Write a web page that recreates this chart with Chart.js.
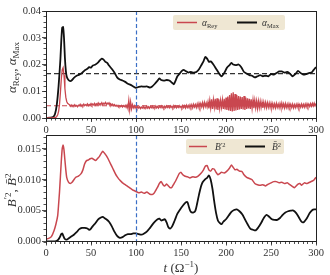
<!DOCTYPE html>
<html lang="en">
<head>
<meta charset="UTF-8">
<title>alpha and B^2 vs t</title>
<script src="https://cdn.jsdelivr.net/npm/chart.js"></script>
<style>
  body { margin: 0; background: #fff; }
  #wrap { position: relative; width: 330px; height: 275px; }
  #wrap canvas { position: absolute; left: 0; }
</style>
</head>
<body>
<div id="wrap">
  <canvas id="topChart" width="330" height="140" style="top:0"></canvas>
  <canvas id="botChart" width="330" height="147" style="top:128px"></canvas>
</div>
<script>
// ---- data ----
const xTicks = [0, 50, 100, 150, 200, 250, 300];
const topYTicks = [0, 0.01, 0.02, 0.03, 0.04];
const botYTicks = [0, 0.005, 0.010, 0.015];
const markT = 100;            // vertical dashed marker
const meanRey = 0.0046;       // horizontal dashed levels
const meanMax = 0.0166;

// alpha_Rey sampled every 1 Omega^-1 from t = 0
const REY_T0 = 0, REY_DT = 1;
const alphaRey = [
  0,0,0,0,0,0,0,0,0.0001,0.0001,
  0.0002,0.0003,0.0006,0.0012,0.0025,0.0050,0.0095,0.0145,0.0180,0.0188,
  0.0160,0.0110,0.0078,0.0062,0.0055,0.0052,0.0050,0.0044,0.0049,0.0043,
  0.0048,0.0045,0.0050,0.0044,0.0047,0.0042,0.0048,0.0046,0.0051,0.0044,
  0.0049,0.0045,0.0052,0.0046,0.0050,0.0047,0.0053,0.0046,0.0051,0.0048,
  0.0054,0.0047,0.0052,0.0049,0.0055,0.0048,0.0053,0.0050,0.0056,0.0049,
  0.0054,0.0051,0.0057,0.0050,0.0055,0.0052,0.0058,0.0051,0.0056,0.0052,
  0.0057,0.0049,0.0053,0.0048,0.0052,0.0046,0.0050,0.0045,0.0048,0.0043,
  0.0047,0.0042,0.0046,0.0042,0.0047,0.0041,0.0046,0.0042,0.0047,0.0040,
  0.0048,0.0036,0.0066,0.0030,0.0060,0.0034,0.0050,0.0038,0.0046,0.0037,
  0.0044,0.0036,0.0043,0.0037,0.0042,0.0035,0.0041,0.0037,0.0043,0.0036,
  0.0041,0.0038,0.0044,0.0037,0.0042,0.0036,0.0043,0.0038,0.0044,0.0037,
  0.0042,0.0038,0.0045,0.0038,0.0043,0.0037,0.0044,0.0039,0.0045,0.0038,
  0.0043,0.0037,0.0044,0.0038,0.0045,0.0039,0.0044,0.0038,0.0045,0.0039,
  0.0044,0.0038,0.0046,0.0039,0.0045,0.0038,0.0044,0.0039,0.0046,0.0039,
  0.0044,0.0038,0.0047,0.0039,0.0046,0.0037,0.0048,0.0039,0.0047,0.0038,
  0.0049,0.0040,0.0050,0.0038,0.0051,0.0041,0.0050,0.0039,0.0053,0.0040,
  0.0055,0.0041,0.0054,0.0042,0.0057,0.0040,0.0058,0.0043,0.0056,0.0041,
  0.0060,0.0036,0.0066,0.0038,0.0070,0.0034,0.0068,0.0040,0.0072,0.0032,
  0.0074,0.0030,0.0070,0.0036,0.0066,0.0040,0.0068,0.0034,0.0072,0.0032,
  0.0076,0.0030,0.0080,0.0028,0.0086,0.0026,0.0092,0.0024,0.0096,0.0026,
  0.0090,0.0028,0.0086,0.0030,0.0082,0.0032,0.0080,0.0034,0.0078,0.0032,
  0.0082,0.0030,0.0076,0.0034,0.0074,0.0036,0.0072,0.0034,0.0070,0.0036,
  0.0068,0.0037,0.0066,0.0038,0.0064,0.0036,0.0063,0.0038,0.0062,0.0039,
  0.0060,0.0038,0.0059,0.0040,0.0058,0.0039,0.0057,0.0040,0.0056,0.0039,
  0.0055,0.0038,0.0054,0.0039,0.0053,0.0038,0.0055,0.0040,0.0052,0.0038,
  0.0054,0.0039,0.0056,0.0040,0.0053,0.0038,0.0054,0.0039,0.0052,0.0038,
  0.0053,0.0040,0.0051,0.0039,0.0052,0.0038,0.0050,0.0039,0.0051,0.0040,
  0.0052,0.0039,0.0050,0.0040,0.0052,0.0041,0.0051,0.0040,0.0052,0.0041,
  0.0053,0.0042,0.0052,0.0043,0.0054,0.0044,0.0055,0.0045,0.0056,0.0046,
  0.0054
];

const tMax = [
  0,5,8,10,12,14,16,17,18,19,
  20,21,22,23,25,27,29,31,34,37,
  40,43,46,48,50,52,55,58,60,62,
  64,66,68,70,73,76,79,82,85,88,
  91,94,97,100,103,106,109,112,115,118,
  121,124,126,128,131,134,137,140,142,144,
  146,149,151,153,155,158,161,164,167,170,
  173,175,177,179,181,183,186,189,192,195,
  198,201,204,206,208,211,214,217,220,223,
  226,229,232,235,238,241,244,247,250,253,
  256,259,262,265,268,271,274,277,280,283,
  286,289,292,295,297,300
];
const alphaMax = [
  0,0.0001,0.0004,0.0015,0.0050,0.0120,0.0220,0.0290,0.0338,0.0340,
  0.0300,0.0225,0.0178,0.0155,0.0142,0.0138,0.0142,0.0150,0.0158,0.0162,
  0.0168,0.0178,0.0184,0.0190,0.0188,0.0196,0.0200,0.0208,0.0216,0.0222,
  0.0218,0.0210,0.0206,0.0196,0.0184,0.0170,0.0152,0.0144,0.0140,0.0135,
  0.0128,0.0124,0.0118,0.0113,0.0116,0.0118,0.0117,0.0118,0.0114,0.0118,
  0.0128,0.0140,0.0148,0.0142,0.0140,0.0142,0.0140,0.0132,0.0126,0.0140,
  0.0156,0.0168,0.0176,0.0180,0.0176,0.0170,0.0172,0.0170,0.0172,0.0182,
  0.0200,0.0212,0.0228,0.0222,0.0210,0.0212,0.0200,0.0184,0.0168,0.0156,
  0.0168,0.0188,0.0198,0.0206,0.0200,0.0198,0.0200,0.0190,0.0172,0.0166,
  0.0160,0.0158,0.0152,0.0156,0.0160,0.0156,0.0158,0.0156,0.0164,0.0162,
  0.0168,0.0174,0.0174,0.0170,0.0172,0.0166,0.0156,0.0164,0.0176,0.0168,
  0.0162,0.0164,0.0168,0.0170,0.0178,0.0190
];

const tBp = [
  0,3,6,9,11,13,14,15,16,17,
  18,19,20,21,22,23,25,27,29,31,
  33,36,39,41,43,45,47,49,51,53,
  55,57,59,61,63,65,67,69,71,73,
  75,77,79,81,83,85,87,89,91,93,
  95,97,100,103,106,109,112,115,118,120,
  122,124,126,128,130,132,134,136,138,140,
  142,144,146,148,150,152,154,157,160,163,
  166,169,172,175,177,179,181,183,185,187,
  189,191,193,195,198,201,204,206,208,210,
  212,215,218,220,223,226,229,232,235,238,
  241,244,247,250,253,256,259,262,265,268,
  271,274,276,278,280,282,284,287,290,293,
  296,298,300
];
const bPrime2 = [
  0.0004,0.0005,0.0008,0.0018,0.0028,0.0042,0.0060,0.0080,0.0105,0.0130,
  0.0150,0.0156,0.0148,0.0132,0.0116,0.0104,0.0096,0.0094,0.0096,0.0100,
  0.0104,0.0106,0.0110,0.0116,0.0126,0.0131,0.0132,0.0134,0.0135,0.0133,
  0.0131,0.0134,0.0137,0.0142,0.0146,0.0143,0.0139,0.0134,0.0128,0.0122,
  0.0116,0.0110,0.0105,0.0101,0.0098,0.0095,0.0093,0.0091,0.0089,0.0087,
  0.0085,0.0083,0.0081,0.0079,0.0080,0.0078,0.0080,0.0077,0.0076,0.0078,
  0.0083,0.0088,0.0094,0.0097,0.0092,0.0090,0.0093,0.0090,0.0087,0.0088,
  0.0093,0.0098,0.0104,0.0110,0.0112,0.0108,0.0106,0.0105,0.0103,0.0105,
  0.0104,0.0106,0.0110,0.0116,0.0122,0.0123,0.0116,0.0114,0.0118,0.0117,
  0.0112,0.0108,0.0110,0.0112,0.0111,0.0114,0.0119,0.0124,0.0120,0.0116,
  0.0117,0.0114,0.0113,0.0108,0.0104,0.0102,0.0100,0.0094,0.0092,0.0091,
  0.0092,0.0090,0.0093,0.0095,0.0097,0.0097,0.0095,0.0096,0.0094,0.0095,
  0.0092,0.0089,0.0087,0.0090,0.0093,0.0094,0.0091,0.0095,0.0094,0.0096,
  0.0098,0.0100,0.0104
];

const tBm = [
  0,10,13,15,17,18,19,21,23,25,
  28,31,34,37,40,43,46,48,50,52,
  55,58,61,63,65,67,70,73,76,79,
  82,85,88,91,94,97,100,103,106,109,
  112,115,118,121,124,126,128,130,132,134,
  136,138,140,143,146,149,152,155,157,159,
  161,164,166,168,170,172,174,177,179,181,
  183,185,187,189,191,193,195,197,200,203,
  206,209,212,215,218,221,224,227,230,233,
  236,239,242,245,248,251,254,257,260,263,
  266,269,272,275,278,281,284,286,288,290,
  293,296,298,300
];
const bMean2 = [
  0,0,0.0002,0.0006,0.0012,0.0013,0.0010,0.0004,0.0003,0.0005,
  0.0008,0.0011,0.0015,0.0020,0.0022,0.0022,0.0021,0.0019,0.0021,0.0025,
  0.0030,0.0036,0.0039,0.0040,0.0038,0.0036,0.0032,0.0025,0.0016,0.0009,
  0.0006,0.0007,0.0010,0.0012,0.0012,0.0013,0.0013,0.0012,0.0011,0.0013,
  0.0016,0.0021,0.0027,0.0032,0.0036,0.0037,0.0034,0.0035,0.0036,0.0031,
  0.0023,0.0021,0.0024,0.0034,0.0045,0.0052,0.0058,0.0063,0.0064,0.0055,
  0.0048,0.0047,0.0050,0.0062,0.0076,0.0088,0.0096,0.0101,0.0103,0.0107,
  0.0100,0.0085,0.0064,0.0046,0.0034,0.0030,0.0028,0.0032,0.0036,0.0042,
  0.0048,0.0051,0.0052,0.0049,0.0044,0.0036,0.0028,0.0021,0.0019,0.0018,
  0.0023,0.0030,0.0038,0.0043,0.0040,0.0036,0.0035,0.0035,0.0038,0.0043,
  0.0047,0.0049,0.0050,0.0050,0.0046,0.0039,0.0032,0.0031,0.0034,0.0038,
  0.0046,0.0051,0.0052,0.0052
];

// ---- styling ----
const RED = '#c9474f';
const BLACK = '#111';
const BLUE = '#3b6fc6';
const FONT = '"Liberation Serif", "DejaVu Serif", serif';
const TXT = '#333';

const pts = (xs, ys) => ys.map((v, i) => ({ x: xs[i], y: v }));
const reyPts = alphaRey.map((v, i) => ({ x: REY_T0 + i * REY_DT, y: v }));

// draw a run of text pieces (for sub/superscripts)
function drawRich(ctx, parts, x, y) {
  for (const p of parts) {
    ctx.font = (p.italic ? 'italic ' : '') + p.size + 'px ' + FONT;
    ctx.fillText(p.t, x, y + (p.dy || 0));
    x += ctx.measureText(p.t).width;
  }
  return x;
}
function richWidth(ctx, parts) {
  let w = 0;
  for (const p of parts) {
    ctx.font = (p.italic ? 'italic ' : '') + p.size + 'px ' + FONT;
    w += ctx.measureText(p.t).width;
  }
  return w;
}

// frame, minor ticks, marker line, legend, axis titles
const deco = {
  id: 'deco',
  afterDatasetsDraw(chart, args, o) {
    const { ctx, chartArea: a, scales: { x, y } } = chart;
    ctx.save();
    // marker
    const px = Math.round(x.getPixelForValue(markT)) + 0.5;
    ctx.strokeStyle = BLUE; ctx.lineWidth = 1.2; ctx.setLineDash([4, 2.5]);
    ctx.beginPath(); ctx.moveTo(px, a.top); ctx.lineTo(px, a.bottom); ctx.stroke();
    ctx.setLineDash([]);
    // frame
    ctx.strokeStyle = '#222'; ctx.lineWidth = 1;
    ctx.strokeRect(Math.round(a.left) + 0.5, Math.round(a.top) + 0.5,
      Math.round(a.right - a.left), Math.round(a.bottom - a.top));
    // minor ticks
    ctx.beginPath();
    for (let v = 0; v <= 300; v += 5) {
      const p = Math.round(x.getPixelForValue(v)) + 0.5;
      ctx.moveTo(p, a.bottom); ctx.lineTo(p, a.bottom + 2.5);
    }
    for (let k = 0; k * o.yMinor <= y.max + 1e-9; k++) {
      const p = Math.round(y.getPixelForValue(k * o.yMinor)) + 0.5;
      ctx.moveTo(a.left, p); ctx.lineTo(a.left - 2.5, p);
    }
    ctx.lineWidth = 0.8; ctx.stroke();
    ctx.restore();
  },
  afterDraw(chart, args, o) {
    const { ctx, chartArea: a } = chart;
    ctx.save();
    // legend
    const L = o.legend;
    ctx.fillStyle = '#efe7d3';
    ctx.beginPath(); ctx.roundRect(L.x, L.y, L.w, L.h, 2); ctx.fill();
    const cy = L.y + L.h / 2;
    for (const it of L.items) {
      ctx.strokeStyle = it.color; ctx.lineWidth = it.lw;
      ctx.beginPath(); ctx.moveTo(it.x0, cy); ctx.lineTo(it.x1, cy); ctx.stroke();
      ctx.fillStyle = TXT;
      drawRich(ctx, it.parts, it.tx, cy + 3);
    }
    // y title
    ctx.fillStyle = TXT;
    ctx.translate(o.yTitle.x, (a.top + a.bottom) / 2 + o.yTitle.dy);
    ctx.rotate(-Math.PI / 2);
    const w = richWidth(ctx, o.yTitle.parts);
    drawRich(ctx, o.yTitle.parts, -w / 2, 0);
    ctx.setTransform(1, 0, 0, 1, 0, 0);
    if (o.xTitle) {
      const xw = richWidth(ctx, o.xTitle.parts);
      drawRich(ctx, o.xTitle.parts, o.xTitle.x - xw / 2, o.xTitle.y);
    }
    ctx.restore();
  }
};

function makeScales(yMax, yTicks, digits, xHeight, xPad) {
  return {
    x: {
      type: 'linear', min: 0, max: 300,
      afterBuildTicks: s => { s.ticks = xTicks.map(v => ({ value: v })); },
      afterFit: s => { s.height = xHeight; },
      ticks: { color: TXT, font: { family: FONT, size: 10.5 }, padding: xPad, maxRotation: 0 },
      grid: { drawOnChartArea: false, tickLength: 4, color: '#222', tickWidth: 0.8 },
      border: { color: '#222', width: 1 }
    },
    y: {
      min: 0, max: yMax,
      afterBuildTicks: s => { s.ticks = yTicks.map(v => ({ value: v })); },
      afterFit: s => { s.width = 46; },
      ticks: { color: TXT, font: { family: FONT, size: 10.5 }, padding: 1,
        callback: v => v.toFixed(digits) },
      grid: { drawOnChartArea: false, tickLength: 4, color: '#222', tickWidth: 0.8 },
      border: { color: '#222', width: 1 }
    }
  };
}

const common = {
  responsive: false, animation: false, devicePixelRatio: 1,
  elements: { point: { radius: 0 } },
  events: []
};

// top panel: alpha_Rey, alpha_Max
new Chart(document.getElementById('topChart'), {
  type: 'line',
  data: {
    datasets: [
      { data: [{ x: 0, y: meanRey }, { x: 300, y: meanRey }], borderColor: RED,
        borderWidth: 1.1, borderDash: [5, 3], order: 4 },
      { data: [{ x: 0, y: meanMax }, { x: 300, y: meanMax }], borderColor: '#333',
        borderWidth: 1.4, borderDash: [5, 3], order: 3 },
      { data: pts(tMax, alphaMax), borderColor: BLACK, borderWidth: 1.8,
        tension: 0.2, order: 2 },
      { data: reyPts, borderColor: RED, borderWidth: 1.3, tension: 0, order: 1 }
    ]
  },
  options: Object.assign({}, common, {
    layout: { padding: { top: 11, right: 14, left: 0, bottom: 0 } },
    scales: makeScales(0.04, topYTicks, 2, 22, 2),
    plugins: {
      legend: { display: false }, tooltip: { enabled: false },
      deco: {
        yMinor: 0.002,
        legend: { x: 173, y: 15, w: 112, h: 15, items: [
          { color: RED, lw: 1.5, x0: 177, x1: 197, tx: 202,
            parts: [{ t: 'α', size: 9.5, italic: true }, { t: 'Rey', size: 6.5, dy: 2 }] },
          { color: BLACK, lw: 2, x0: 237, x1: 257, tx: 262,
            parts: [{ t: 'α', size: 9.5, italic: true }, { t: 'Max', size: 6.5, dy: 2 }] }
        ] },
        yTitle: { x: 16, dy: 3, parts: [
          { t: 'α', size: 13, italic: true }, { t: 'Rey', size: 9, dy: 3 },
          { t: ', ', size: 13 },
          { t: 'α', size: 13, italic: true }, { t: 'Max', size: 9, dy: 3 }
        ] }
      }
    }
  }),
  plugins: [deco]
});

// bottom panel: B'^2, mean B^2
new Chart(document.getElementById('botChart'), {
  type: 'line',
  data: {
    datasets: [
      { data: pts(tBp, bPrime2), borderColor: RED, borderWidth: 1.5, tension: 0.15, order: 1 },
      { data: pts(tBm, bMean2), borderColor: BLACK, borderWidth: 1.8, tension: 0.3, order: 2 }
    ]
  },
  options: Object.assign({}, common, {
    layout: { padding: { top: 6, right: 14, left: 0, bottom: 0 } },
    scales: makeScales(0.0172, botYTicks, 3, 33.5, 1),
    plugins: {
      legend: { display: false }, tooltip: { enabled: false },
      deco: {
        yMinor: 0.001,
        legend: { x: 186, y: 11, w: 98, h: 15, items: [
          { color: RED, lw: 1.5, x0: 189, x1: 207, tx: 215,
            parts: [{ t: 'B', size: 9.5, italic: true }, { t: '′', size: 7, dy: -3 }, { t: '2', size: 6.5, dy: -3 }] },
          { color: BLACK, lw: 2, x0: 245, x1: 265, tx: 272,
            parts: [{ t: 'B\u0304', size: 9.5, italic: true }, { t: '2', size: 6.5, dy: -3 }] }
        ] },
        yTitle: { x: 16, dy: 2, parts: [
          { t: 'B', size: 13, italic: true }, { t: '′', size: 10, dy: -5 }, { t: '2', size: 9, dy: -5 },
          { t: ', ', size: 13 },
          { t: 'B\u0304', size: 13, italic: true }, { t: '2', size: 9, dy: -5 }
        ] },
        xTitle: { x: 181, y: 144, parts: [
          { t: 't', size: 13, italic: true }, { t: ' (Ω', size: 13 },
          { t: '−1', size: 9, dy: -5 }, { t: ')', size: 13 }
        ] }
      }
    }
  }),
  plugins: [deco]
});
</script>
</body>
</html>
